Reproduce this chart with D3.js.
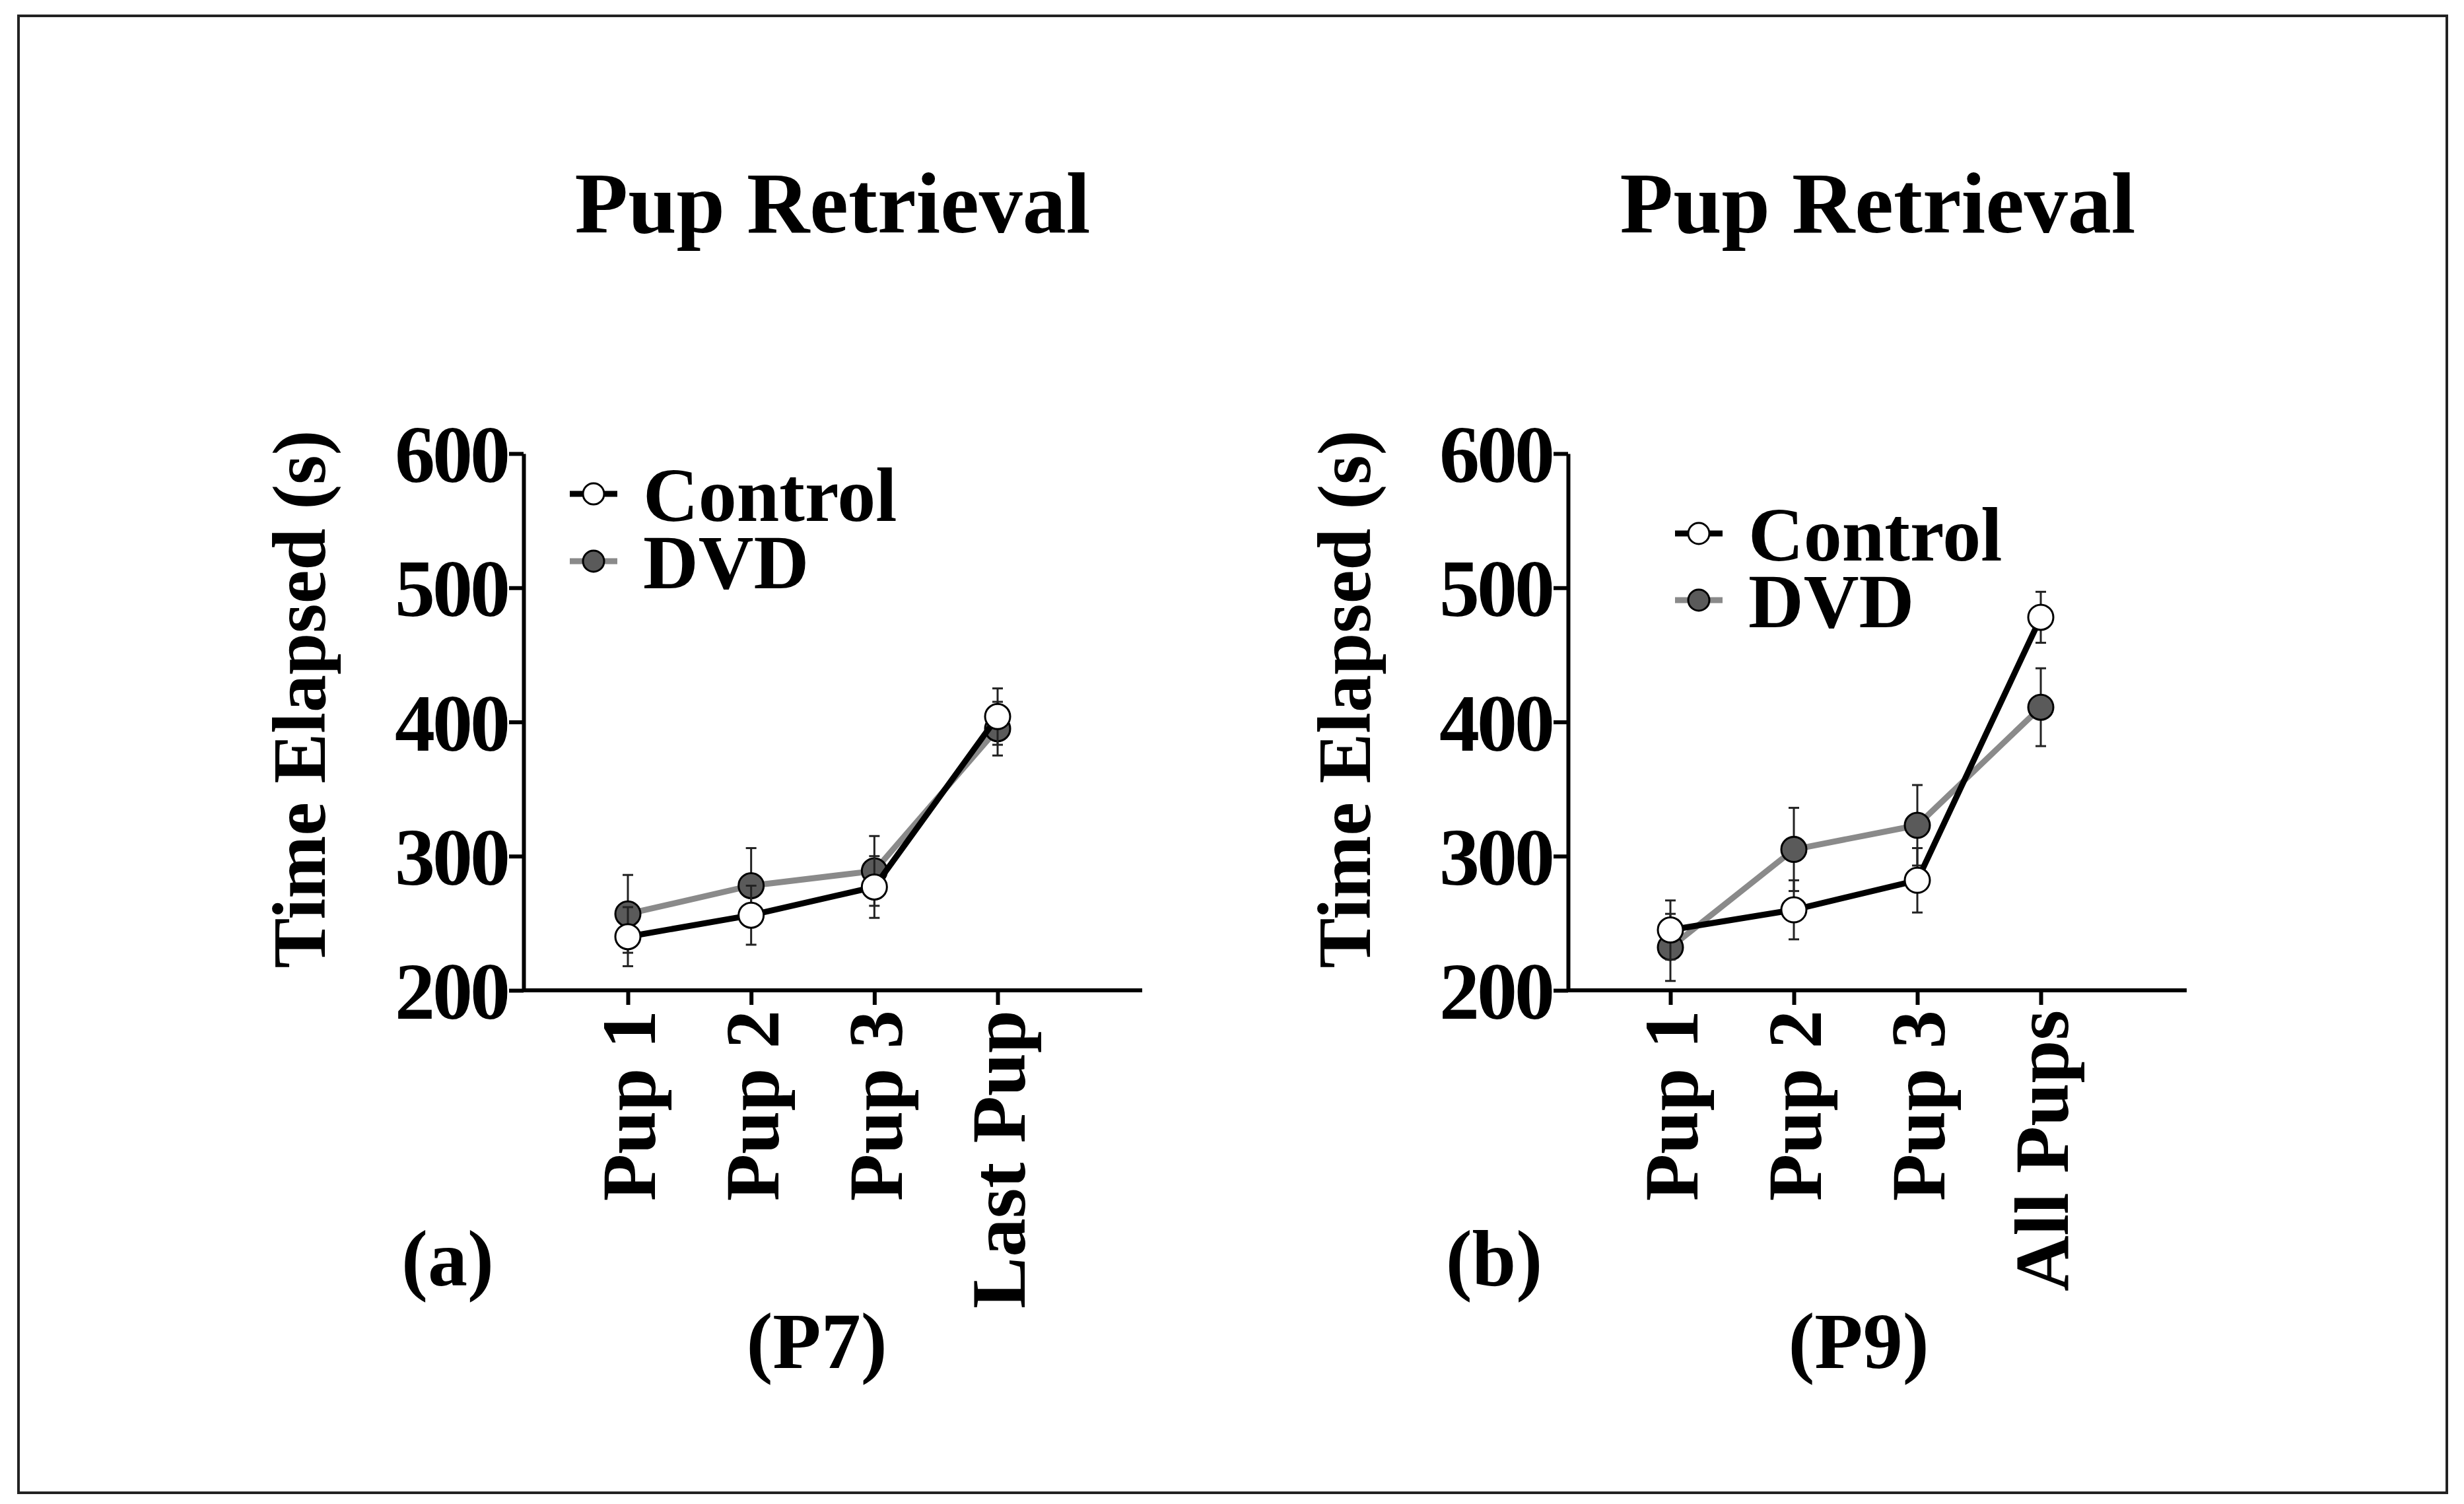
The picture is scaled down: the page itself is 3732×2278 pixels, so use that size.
<!DOCTYPE html>
<html><head><meta charset="utf-8">
<script src="https://cdn.jsdelivr.net/npm/d3@7"></script>
<style>body{margin:0;background:#fff}svg{display:block}text{font-family:"Liberation Serif","Times New Roman",serif;font-weight:bold;fill:#000}</style>
</head><body><svg id="c" width="3732" height="2278"></svg>
<script>
const catsA = ["Pup 1","Pup 2","Pup 3","Last Pup"];
const catsB = ["Pup 1","Pup 2","Pup 3","All Pups"];
const ctrlA = [240,256,277,404], ctrlAErr = [22,22,23,21];
const dvdA  = [257,278,289,395], dvdAErr  = [29,28,26,20];
const ctrlB = [245,260,282,478], ctrlBErr = [22,22,24,19];
const dvdB  = [232,305,323,411], dvdBErr  = [25,31,30,29];
const yTicks = [200,300,400,500,600];

const svg = d3.select("#c");
svg.append("rect").attr("x",28).attr("y",24).attr("width",3678).attr("height",2237).attr("fill","none").attr("stroke","#222").attr("stroke-width",4);

function panel(o){
  const g = svg.append("g");
  const y = d3.scaleLinear().domain([200,600]).range([1500,687]);
  const x = d3.scalePoint().domain(o.cats).range([o.x0, o.x3]);
  g.append("text").attr("x",o.tx).attr("y",352).attr("text-anchor","middle").attr("font-size",132).text("Pup Retrieval");
  const ya = g.append("g").attr("transform",`translate(${o.ax},0)`).call(d3.axisLeft(y).tickValues(yTicks).tickSize(22).tickSizeOuter(0).tickPadding(2));
  ya.select(".domain").attr("stroke-width",6);
  ya.selectAll(".tick line").attr("stroke-width",6);
  ya.selectAll("text").attr("font-size",122).attr("dy","0.35em").style("font-family","Liberation Serif").style("font-weight","bold").attr("letter-spacing",-4);
  const xa = g.append("g").attr("transform","translate(0,1500)").call(d3.axisBottom(x).tickSize(22).tickSizeOuter(0).tickPadding(20));
  xa.select(".domain").attr("d",`M${o.ax},0H${o.axEnd}`).attr("stroke-width",6);
  xa.selectAll(".tick line").attr("stroke-width",6);
  xa.selectAll("text").attr("font-size",117).attr("transform","rotate(-90)").attr("text-anchor","end").attr("x",-30).attr("y",0).attr("dy","0.35em").style("font-family","Liberation Serif").style("font-weight","bold");
  g.append("text").attr("x",-1059).attr("y",o.ylx).attr("transform","rotate(-90)").attr("text-anchor","middle").attr("font-size",114).attr("dy","0.35em").text("Time Elapsed (s)");
  g.append("text").attr("x",o.lx).attr("y",1947).attr("text-anchor","middle").attr("font-size",120).text(o.letter);
  g.append("text").attr("x",o.px).attr("y",2072).attr("text-anchor","middle").attr("font-size",120).text(o.pday);
  const series = [
    {v:o.dvd,e:o.dvdE,line:"#8a8a8a",fill:"#5a5a5a"},
    {v:o.ctrl,e:o.ctrlE,line:"#000",fill:"#fff"}];
  series.forEach(s=>{
    const pts = o.cats.map((c,i)=>({x:x(c),v:s.v[i],e:s.e[i]}));
    g.append("path").attr("d",d3.line().x(d=>d.x).y(d=>y(d.v))(pts)).attr("fill","none").attr("stroke",s.line).attr("stroke-width",9);
    pts.forEach(d=>{
      g.append("line").attr("x1",d.x).attr("x2",d.x).attr("y1",y(d.v-d.e)).attr("y2",y(d.v+d.e)).attr("stroke","#222").attr("stroke-width",3);
      [d.v-d.e,d.v+d.e].forEach(t=>g.append("line").attr("x1",d.x-8).attr("x2",d.x+8).attr("y1",y(t)).attr("y2",y(t)).attr("stroke","#222").attr("stroke-width",3));
    });
    g.selectAll(null).data(pts).enter().append("circle").attr("cx",d=>d.x).attr("cy",d=>y(d.v)).attr("r",19).attr("fill",s.fill).attr("stroke","#000").attr("stroke-width",3);
  });
  [{t:"Control",y:o.ly1,line:"#000",fill:"#fff"},{t:"DVD",y:o.ly2,line:"#8a8a8a",fill:"#5a5a5a"}].forEach(l=>{
    g.append("line").attr("x1",o.lmx-36).attr("x2",o.lmx+36).attr("y1",l.y).attr("y2",l.y).attr("stroke",l.line).attr("stroke-width",9);
    g.append("circle").attr("cx",o.lmx).attr("cy",l.y).attr("r",16).attr("fill",l.fill).attr("stroke","#000").attr("stroke-width",3);
    g.append("text").attr("x",o.lmx+75).attr("y",l.y).attr("dy","0.35em").attr("font-size",116).text(l.t);
  });
}
panel({cats:catsA,ctrl:ctrlA,ctrlE:ctrlAErr,dvd:dvdA,dvdE:dvdAErr,x0:951,x3:1511,ax:793,axEnd:1730,tx:1261,ylx:452,lx:678,px:1237,letter:"(a)",pday:"(P7)",lmx:899,ly1:748,ly2:850});
panel({cats:catsB,ctrl:ctrlB,ctrlE:ctrlBErr,dvd:dvdB,dvdE:dvdBErr,x0:2530,x3:3091,ax:2375,axEnd:3312,tx:2844,ylx:2035,lx:2263,px:2815,letter:"(b)",pday:"(P9)",lmx:2573,ly1:808,ly2:909});
</script></body></html>
